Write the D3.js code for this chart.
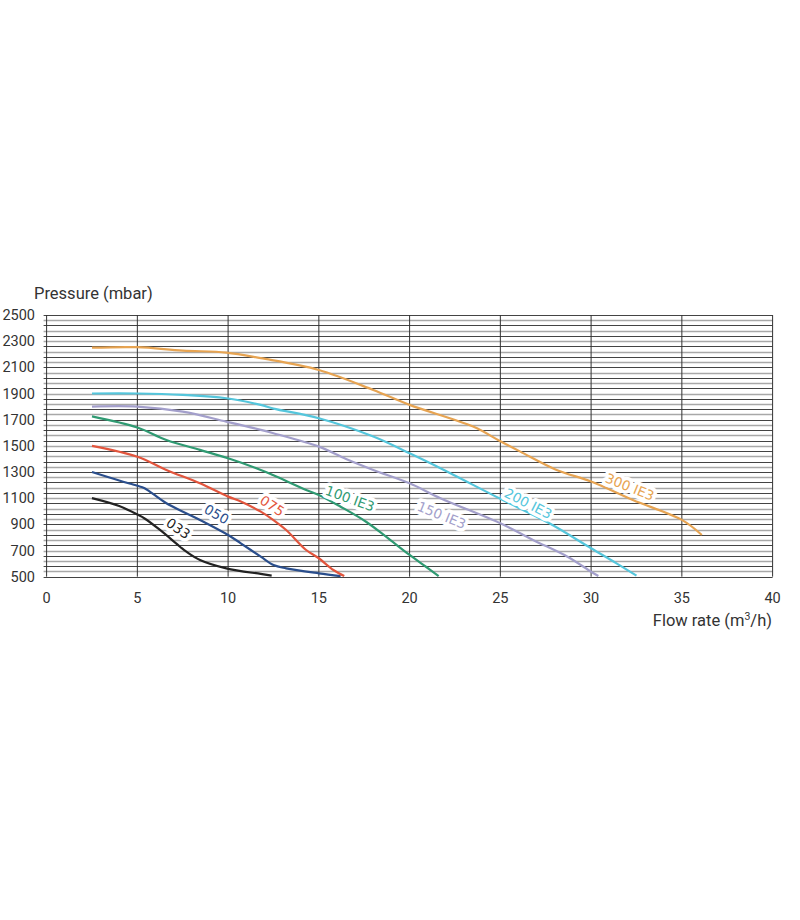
<!DOCTYPE html>
<html><head><meta charset="utf-8">
<script src="https://cdn.jsdelivr.net/npm/d3@7"></script>
<style>body{margin:0;background:#fff;font-family:Roboto,"Noto Sans",sans-serif;}</style>
</head><body>
<svg id="c" width="800" height="920"></svg>
<script>
const xTicks = [0,5,10,15,20,25,30,35,40];
const yTicks = [500,700,900,1100,1300,1500,1700,1900,2100,2300,2500];

const s033 = [[2.5,1100],[4,1040],[5,975],[5.4,945],[6.25,857],[7.35,729],[7.7,691],[8.45,628],[9.9,564],[11.8,521],[12.4,508]];
const s050 = [[2.5,1300],[4,1235],[5,1195],[5.4,1176],[6.6,1061],[8.45,934],[10,819],[10.7,755],[11.8,653],[12.5,589],[13.2,564],[15,526],[16.2,505]];
const s075 = [[2.5,1500],[5,1417],[6.6,1316],[8.45,1214],[10,1112],[10.7,1075],[11.8,997],[12.5,933],[13.2,857],[14.3,704],[15,641],[15.8,551],[16.4,505]];
const s100 = [[2.5,1725],[5,1640],[6.6,1545],[8.45,1469],[10,1405],[11.8,1316],[12.5,1275],[14.3,1163],[15,1125],[16.2,1035],[17.6,920],[18.7,806],[20,666],[20.9,576],[21.6,505]];
const s150 = [[2.5,1800],[5,1800],[7.5,1762],[9.9,1685],[11.8,1622],[12.5,1596],[15,1494],[16.5,1400],[18,1316],[20,1214],[21.7,1100],[25,908],[26.8,781],[28.7,653],[30,538],[30.4,505]];
const s200 = [[2.5,1900],[5,1900],[7.5,1889],[9.9,1864],[11.8,1813],[12.5,1785],[15,1711],[18,1571],[20,1443],[21.7,1329],[25,1095],[27.7,908],[30,717],[31.4,602],[32.5,508]];
const s300 = [[2.5,2250],[5,2254],[7.5,2228],[9.9,2213],[11.8,2170],[15,2080],[18,1927],[20,1813],[23.5,1647],[25,1535],[26.1,1456],[28.1,1316],[30,1227],[32.3,1086],[35,934],[36.1,819]];

const seriesNames = ["033","050","075","100 IE3","150 IE3","200 IE3","300 IE3"];
const seriesData = [s033,s050,s075,s100,s150,s200,s300];
const seriesColors = ["#222222","#2a4e8c","#e2553d","#2f9a72","#a39fcb","#55c6dc","#e7a452"];
// label anchor points (data coords) and rotation
const labelPos = [[7.26,870],[9.37,979],[12.44,1043],[16.72,1099],[21.77,972],[26.54,1061],[32.14,1188]];
const labelRot = [35,30,33,20,22,27,22];

const svg = d3.select("#c");
const x = d3.scaleLinear().domain([0,40]).range([46.6,772.6]);
const y = d3.scaleLinear().domain([500,2500]).range([576.7,315]);

// horizontal grid every 40 mbar
const hLines = d3.range(500, 2501, 40);
svg.append("g").selectAll("line").data(hLines).join("line")
  .attr("x1", x(0)-3).attr("x2", x(40))
  .attr("y1", d=>Math.round(y(d))+0.5).attr("y2", d=>Math.round(y(d))+0.5)
  .attr("stroke", (d,i)=> i%2===0 ? "#444" : "#a8a8a8")
  .attr("stroke-width", (d,i)=> i%2===0 ? 1 : 1.5);
// vertical grid
svg.append("g").selectAll("line").data(xTicks).join("line")
  .attr("x1", d=>x(d)).attr("x2", d=>x(d))
  .attr("y1", y(2500)).attr("y2", y(500))
  .attr("stroke", "#333").attr("stroke-width", 1);

// tick labels
svg.append("g").selectAll("text").data(yTicks).join("text")
  .attr("x", 35).attr("y", d=>y(d)+5)
  .attr("text-anchor","end").attr("font-size",14.5).attr("fill","#333")
  .text(d=>d);
svg.append("g").selectAll("text").data(xTicks).join("text")
  .attr("x", d=>x(d)).attr("y", 603)
  .attr("text-anchor","middle").attr("font-size",14.5).attr("fill","#333")
  .text(d=>d);

svg.append("text").attr("x",34).attr("y",299).attr("font-size",16.5).attr("fill","#333").text("Pressure (mbar)");
const t = svg.append("text").attr("x",772).attr("y",626).attr("text-anchor","end").attr("font-size",16.5).attr("fill","#333");
t.append("tspan").text("Flow rate (m");
t.append("tspan").attr("font-size",10.5).attr("dy",-6).text("3");
t.append("tspan").attr("dy",6).text("/h)");

const line = d3.line().x(d=>x(d[0])).y(d=>y(d[1])).curve(d3.curveCatmullRom.alpha(0.5));
svg.append("g").selectAll("path").data(seriesData).join("path")
  .attr("d", line).attr("fill","none")
  .attr("stroke",(d,i)=>seriesColors[i]).attr("stroke-width",2.2)
  .attr("stroke-linejoin","round");

// labels
const lg = svg.append("g").selectAll("g").data(seriesNames).join("g")
  .attr("transform",(d,i)=>`translate(${x(labelPos[i][0])},${y(labelPos[i][1])}) rotate(${labelRot[i]})`);
lg.append("text").attr("text-anchor","middle").attr("dy",5)
  .attr("font-size",13.5).attr("font-family","'DejaVu Sans',sans-serif")
  .attr("fill",(d,i)=>seriesColors[i])
  .attr("stroke","#fff").attr("stroke-width",7).attr("paint-order","stroke").attr("stroke-linejoin","round")
  .text(d=>d);
</script>
</body></html>
